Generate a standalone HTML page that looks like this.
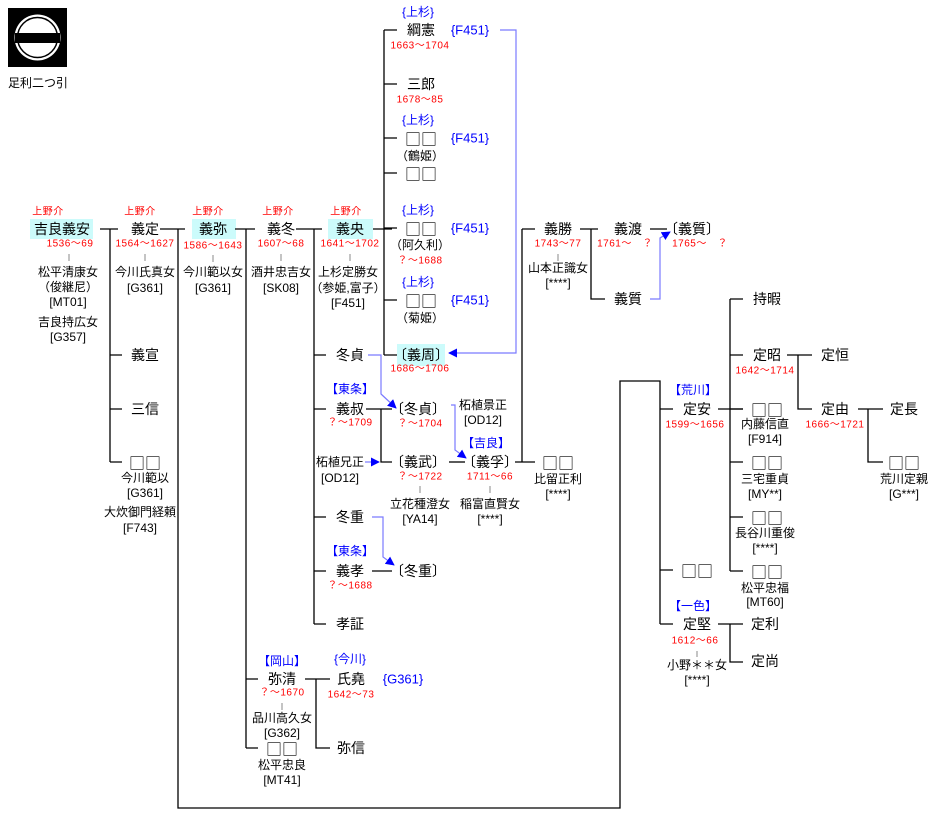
<!DOCTYPE html>
<html><head><meta charset="utf-8"><style>
html,body{margin:0;padding:0;background:#fff;}
svg{display:block;}
text{font-family:"Liberation Sans","Noto Sans CJK JP",sans-serif;dominant-baseline:central;text-anchor:middle;}
.n{font-size:14px;fill:#000;}
.q{font-family:"Noto Sans CJK JP",sans-serif;font-size:16px;fill:#000;}
.s{font-size:12px;fill:#000;}
.d{font-size:10px;fill:#f00;letter-spacing:0.5px;}
.b{font-size:12px;fill:#00f;}
.bb{font-size:13px;fill:#00f;}
.k{stroke:#000;stroke-width:1.3;fill:none;}
.t{stroke:#888;stroke-width:1;}
.bl{stroke:#7a7aff;stroke-width:1.2;fill:none;}
</style></head><body>
<svg width="935" height="821" viewBox="0 0 935 821" xmlns="http://www.w3.org/2000/svg">
<defs><marker id="a" viewBox="0 0 10 10" refX="9" refY="5" markerWidth="9" markerHeight="9" orient="auto" markerUnits="userSpaceOnUse"><path d="M0,0L10,5L0,10z" fill="#00f"/></marker></defs>
<rect x="8" y="8" width="59" height="59" fill="#000"/>
<circle cx="37.5" cy="37.5" r="23" fill="#fff"/>
<circle cx="37.5" cy="37.5" r="20" fill="none" stroke="#000" stroke-width="1.5"/>
<rect x="15" y="33" width="45" height="10" fill="#000"/>
<text class="s" x="38" y="83">足利二つ引</text>

<rect x="30" y="219" width="63" height="20" fill="#ccfbfb"/>
<rect x="192" y="219" width="44" height="20" fill="#ccfbfb"/>
<rect x="328" y="219" width="45" height="20" fill="#ccfbfb"/>
<rect x="397" y="344" width="48" height="22" fill="#ccfbfb"/>

<g class="k">
<path d="M100,229H118M110,229V462M110,355H122M110,409H122M110,462H122"/>
<path d="M160,229H185M178,229V808H620V381H660V624M660,409H673M660,570H673M660,624H673"/>
<path d="M235,229H255M246,229V748M246,679H258M246,748H258"/>
<path d="M296,229H322M314,229V624M314,355H326M314,409H326M314,517H326M314,571H326M314,624H326"/>
<path d="M373,229H392M384,30V355M384,30H397M384,84H397M384,138H397M384,173H397M384,228H397M384,300H397M384,355H397"/>
<path d="M366,409H392M381,409V462H392"/>
<path d="M449,462H465"/>
<path d="M515,462H535M522,229V462M522,229H535"/>
<path d="M580,229H598M591,229V299H605"/>
<path d="M650,229H667"/>
<path d="M730,299V571M730,299H743M730,355H743M730,409H743M730,462H743M730,517H743M730,571H743"/>
<path d="M718,409H743"/>
<path d="M787,355H812M798,355V409H812"/>
<path d="M858,409H883M868,409V462H883"/>
<path d="M718,624H743M730,624V662H743"/>
<path d="M372,571H392"/>
<path d="M305,679H330M316,679V748H330"/>
</g>
<g class="t">
<path d="M69,254V261M145,254V261M213,255V262M281,254V261M350,254V261M558,254V261M420,486V493M490,486V493M697,651V657M282,703V710"/>
</g>
<g class="bl">
<path d="M500,30H516V353H449" marker-end="url(#a)"/>
<path d="M368,355H381V394L396,408" marker-end="url(#a)"/>
<path d="M451,405H455V450L466,458" marker-end="url(#a)"/>
<path d="M365,462H379" marker-end="url(#a)"/>
<path d="M650,299H660V238L670,232" marker-end="url(#a)"/>
<path d="M372,517H383V557L394,565" marker-end="url(#a)"/>
</g>

<text class="d" x="48" y="212">上野介</text>
<text class="n" x="62" y="229">吉良義安</text>
<text class="d" x="70" y="244">1536～69</text>
<text class="s" x="68" y="272">松平清康女</text>
<text class="s" x="68" y="287">（俊継尼）</text>
<text class="s" x="68" y="302">[MT01]</text>
<text class="s" x="68" y="322">吉良持広女</text>
<text class="s" x="68" y="337">[G357]</text>

<text class="d" x="140" y="212">上野介</text>
<text class="n" x="145" y="229">義定</text>
<text class="d" x="145" y="244">1564～1627</text>
<text class="s" x="145" y="272">今川氏真女</text>
<text class="s" x="145" y="288">[G361]</text>
<text class="n" x="145" y="355">義宣</text>
<text class="n" x="145" y="409">三信</text>
<text class="q" x="145" y="462">□□</text>
<text class="s" x="145" y="478">今川範以</text>
<text class="s" x="145" y="493">[G361]</text>
<text class="s" x="140" y="512">大炊御門経頼</text>
<text class="s" x="140" y="528">[F743]</text>

<text class="d" x="208" y="212">上野介</text>
<text class="n" x="213" y="229">義弥</text>
<text class="d" x="213" y="246">1586～1643</text>
<text class="s" x="213" y="272">今川範以女</text>
<text class="s" x="213" y="288">[G361]</text>

<text class="d" x="278" y="212">上野介</text>
<text class="n" x="281" y="229">義冬</text>
<text class="d" x="281" y="244">1607～68</text>
<text class="s" x="281" y="272">酒井忠吉女</text>
<text class="s" x="281" y="288">[SK08]</text>

<text class="d" x="346" y="212">上野介</text>
<text class="n" x="350" y="229">義央</text>
<text class="d" x="350" y="244">1641～1702</text>
<text class="s" x="348" y="272">上杉定勝女</text>
<text class="s" x="348" y="288">（参姫,富子）</text>
<text class="s" x="348" y="303">[F451]</text>

<text class="b" x="418" y="12">{上杉}</text>
<text class="n" x="421" y="30">綱憲</text>
<text class="bb" x="470" y="30">{F451}</text>
<text class="d" x="420" y="46">1663～1704</text>
<text class="n" x="421" y="84">三郎</text>
<text class="d" x="420" y="100">1678～85</text>
<text class="b" x="418" y="120">{上杉}</text>
<text class="q" x="421" y="138">□□</text>
<text class="bb" x="470" y="138">{F451}</text>
<text class="s" x="420" y="156">（鶴姫）</text>
<text class="q" x="421" y="173">□□</text>
<text class="b" x="418" y="210">{上杉}</text>
<text class="q" x="421" y="228">□□</text>
<text class="bb" x="470" y="228">{F451}</text>
<text class="s" x="420" y="245">（阿久利）</text>
<text class="d" x="420" y="261">？～1688</text>
<text class="b" x="418" y="282">{上杉}</text>
<text class="q" x="421" y="300">□□</text>
<text class="bb" x="470" y="300">{F451}</text>
<text class="s" x="420" y="318">（菊姫）</text>
<text class="n" x="421" y="355">〔義周〕</text>
<text class="d" x="420" y="369">1686～1706</text>

<text class="n" x="350" y="355">冬貞</text>
<text class="b" x="350" y="389">【東条】</text>
<text class="n" x="350" y="409">義叔</text>
<text class="d" x="350" y="423">？～1709</text>
<text class="s" x="340" y="462">柘植兄正</text>
<text class="s" x="340" y="478">[OD12]</text>
<text class="n" x="350" y="517">冬重</text>
<text class="b" x="350" y="551">【東条】</text>
<text class="n" x="350" y="571">義孝</text>
<text class="d" x="350" y="586">？～1688</text>
<text class="n" x="350" y="624">孝証</text>

<text class="n" x="418" y="409">〔冬貞〕</text>
<text class="d" x="420" y="424">？～1704</text>
<text class="n" x="418" y="462">〔義武〕</text>
<text class="d" x="420" y="477">？～1722</text>
<text class="s" x="420" y="504">立花種澄女</text>
<text class="s" x="420" y="519">[YA14]</text>
<text class="n" x="418" y="571">〔冬重〕</text>

<text class="s" x="483" y="405">柘植景正</text>
<text class="s" x="483" y="420">[OD12]</text>
<text class="b" x="486" y="443">【吉良】</text>
<text class="n" x="490" y="462">〔義孚〕</text>
<text class="d" x="490" y="477">1711～66</text>
<text class="s" x="490" y="504">稲富直賢女</text>
<text class="s" x="490" y="519">[****]</text>

<text class="q" x="558" y="462">□□</text>
<text class="s" x="558" y="479">比留正利</text>
<text class="s" x="558" y="494">[****]</text>

<text class="n" x="558" y="229">義勝</text>
<text class="d" x="558" y="244">1743～77</text>
<text class="s" x="558" y="268">山本正識女</text>
<text class="s" x="558" y="283">[****]</text>
<text class="n" x="628" y="229">義渡</text>
<text class="d" x="625" y="244">1761～　？</text>
<text class="n" x="628" y="299">義質</text>
<text class="n" x="692" y="229">〔義質〕</text>
<text class="d" x="700" y="244">1765～　？</text>

<text class="b" x="693" y="390">【荒川】</text>
<text class="n" x="697" y="409">定安</text>
<text class="d" x="695" y="425">1599～1656</text>
<text class="q" x="697" y="570">□□</text>
<text class="b" x="693" y="606">【一色】</text>
<text class="n" x="697" y="624">定堅</text>
<text class="d" x="695" y="641">1612～66</text>
<text class="s" x="697" y="665">小野＊＊女</text>
<text class="s" x="697" y="680">[****]</text>

<text class="n" x="767" y="299">持暇</text>
<text class="n" x="767" y="355">定昭</text>
<text class="d" x="765" y="371">1642～1714</text>
<text class="q" x="767" y="409">□□</text>
<text class="s" x="765" y="424">内藤信直</text>
<text class="s" x="765" y="439">[F914]</text>
<text class="q" x="767" y="462">□□</text>
<text class="s" x="765" y="479">三宅重貞</text>
<text class="s" x="765" y="494">[MY**]</text>
<text class="q" x="767" y="517">□□</text>
<text class="s" x="765" y="533">長谷川重俊</text>
<text class="s" x="765" y="548">[****]</text>
<text class="q" x="767" y="571">□□</text>
<text class="s" x="765" y="588">松平忠福</text>
<text class="s" x="765" y="602">[MT60]</text>
<text class="n" x="765" y="624">定利</text>
<text class="n" x="765" y="661">定尚</text>

<text class="n" x="835" y="355">定恒</text>
<text class="n" x="835" y="409">定由</text>
<text class="d" x="835" y="425">1666～1721</text>
<text class="n" x="904" y="409">定長</text>
<text class="q" x="904" y="462">□□</text>
<text class="s" x="904" y="479">荒川定親</text>
<text class="s" x="904" y="494">[G***]</text>

<text class="b" x="282" y="661">【岡山】</text>
<text class="n" x="282" y="679">弥清</text>
<text class="d" x="282" y="693">？～1670</text>
<text class="s" x="282" y="718">品川高久女</text>
<text class="s" x="282" y="733">[G362]</text>
<text class="q" x="282" y="748">□□</text>
<text class="s" x="282" y="765">松平忠良</text>
<text class="s" x="282" y="780">[MT41]</text>
<text class="b" x="350" y="659">{今川}</text>
<text class="n" x="351" y="679">氏堯</text>
<text class="bb" x="403" y="679">{G361}</text>
<text class="d" x="351" y="695">1642～73</text>
<text class="n" x="351" y="748">弥信</text>
</svg>
</body></html>
